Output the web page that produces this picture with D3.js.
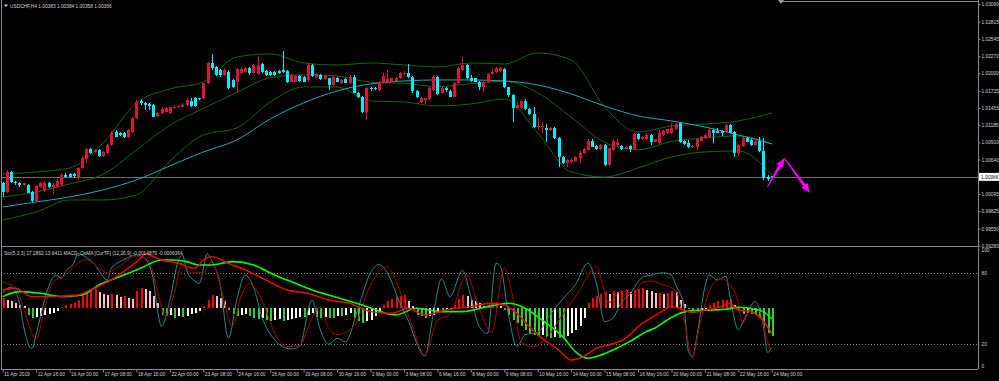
<!DOCTYPE html>
<html>
<head>
<meta charset="utf-8">
<script src="https://cdn.jsdelivr.net/npm/d3@7"></script>
<style>
html, body { margin: 0; padding: 0; background: #000; }
svg { display: block; font-family: "Liberation Sans", Arial, sans-serif; }
</style>
</head>
<body>
<svg id="chart" width="999" height="381"></svg>
<script>
// USDCHF H4 candles, [open, high, low, close], one per bar from 11 Apr 2019 08:00
var ohlc = [
[1.00265,1.00292,1.00055,1.00134],[1.00134,1.00475,1.00118,1.00449],[1.00449,1.00465,1.00276,1.00291],[1.00291,1.00307,1.00239,1.00265],
[1.00276,1.00291,1.00212,1.00239],[1.00239,1.00276,1.00223,1.00265],[1.00239,1.00254,1.00107,1.00118],[1.00134,1.00149,0.99976,0.99991],
[0.99991,1.00239,0.99976,1.00223],[1.00202,1.00291,1.00186,1.00265],[1.00160,1.00307,1.00134,1.00276],[1.00265,1.00281,1.00186,1.00202],
[1.00202,1.00265,1.00097,1.00239],[1.00212,1.00328,1.00202,1.00307],[1.00239,1.00423,1.00223,1.00397],[1.00397,1.00423,1.00344,1.00360],
[1.00412,1.00433,1.00360,1.00370],[1.00407,1.00428,1.00355,1.00375],[1.00344,1.00517,1.00318,1.00502],[1.00502,1.00686,1.00486,1.00659],
[1.00644,1.00817,1.00581,1.00802],[1.00802,1.00817,1.00723,1.00738],[1.00765,1.00812,1.00749,1.00791],[1.00791,1.00807,1.00686,1.00696],
[1.00696,1.00780,1.00675,1.00765],[1.00738,1.00886,1.00723,1.00870],[1.00870,1.01086,1.00854,1.01065],[1.01080,1.01107,1.00991,1.01001],
[1.01065,1.01080,1.01012,1.01028],[1.01065,1.01075,1.00975,1.01001],[1.00991,1.01117,1.00975,1.01107],[1.01080,1.01317,1.01065,1.01291],
[1.01291,1.01580,1.01275,1.01554],[1.01569,1.01591,1.01501,1.01527],[1.01527,1.01554,1.01422,1.01501],[1.01517,1.01527,1.01422,1.01485],
[1.01501,1.01517,1.01306,1.01317],[1.01327,1.01385,1.01317,1.01370],[1.01370,1.01464,1.01359,1.01433],[1.01396,1.01475,1.01385,1.01448],
[1.01370,1.01475,1.01359,1.01464],[1.01448,1.01501,1.01433,1.01475],[1.01464,1.01496,1.01448,1.01485],[1.01475,1.01527,1.01464,1.01501],
[1.01501,1.01606,1.01485,1.01580],[1.01569,1.01606,1.01475,1.01485],[1.01617,1.01633,1.01475,1.01485],[1.01606,1.01617,1.01580,1.01591],
[1.01606,1.01854,1.01591,1.01843],[1.01843,1.02185,1.01832,1.02159],[1.02159,1.02306,1.02053,1.02080],[1.02095,1.02117,1.01959,1.01975],
[1.02053,1.02064,1.01948,1.01975],[1.01975,1.02080,1.01959,1.02053],[1.02027,1.02053,1.01748,1.01764],[1.01896,1.01906,1.01764,1.01780],
[1.01869,1.02080,1.01696,1.02064],[1.02001,1.02095,1.01990,1.02064],[1.02027,1.02106,1.02011,1.02080],[1.02080,1.02106,1.01975,1.02001],
[1.02001,1.02148,1.01990,1.02132],[1.01990,1.02274,1.01975,1.02132],[1.02143,1.02159,1.02011,1.02027],[1.02043,1.02053,1.01959,1.01975],
[1.02027,1.02043,1.01964,1.01975],[1.02027,1.02038,1.01959,1.01975],[1.02043,1.02053,1.01990,1.02001],[1.02053,1.02358,1.02011,1.02027],
[1.02043,1.02053,1.01843,1.01859],[1.01869,1.01990,1.01859,1.01975],[1.01869,1.01975,1.01859,1.01959],[1.01959,1.01969,1.01869,1.01885],
[1.01948,1.01959,1.01859,1.01869],[1.01896,1.02159,1.01869,1.02132],[1.02132,1.02148,1.01948,1.01959],[1.01948,1.02001,1.01932,1.01990],
[1.01975,1.01990,1.01896,1.01906],[1.01906,1.01969,1.01896,1.01959],[1.01922,1.01932,1.01738,1.01817],[1.01817,1.01975,1.01801,1.01948],
[1.01922,1.01948,1.01859,1.01869],[1.01843,1.01906,1.01832,1.01896],[1.01906,1.01922,1.01843,1.01854],[1.01843,1.01975,1.01832,1.01948],
[1.01948,1.01975,1.01685,1.01696],[1.01696,1.01711,1.01606,1.01622],[1.01633,1.01643,1.01370,1.01396],[1.01396,1.01780,1.01264,1.01764],
[1.01764,1.01790,1.01727,1.01748],[1.01764,1.01780,1.01738,1.01748],[1.01738,1.01885,1.01727,1.01869],[1.01843,1.02011,1.01832,1.01959],
[1.01869,1.02053,1.01859,1.01906],[1.01869,1.01932,1.01854,1.01922],[1.01885,1.01948,1.01875,1.01932],[1.01922,1.02027,1.01906,1.02001],
[1.01985,1.02043,1.01975,1.02011],[1.02001,1.02148,1.01932,1.01948],[1.01948,1.01959,1.01696,1.01722],[1.01722,1.01733,1.01606,1.01633],
[1.01554,1.01633,1.01538,1.01606],[1.01580,1.01617,1.01517,1.01606],[1.01591,1.01780,1.01580,1.01764],[1.01738,1.01975,1.01727,1.01948],
[1.01948,1.01959,1.01659,1.01675],[1.01685,1.01780,1.01675,1.01764],[1.01764,1.01790,1.01711,1.01738],[1.01727,1.01738,1.01622,1.01633],
[1.01633,1.01869,1.01622,1.01854],[1.01843,1.02095,1.01832,1.02080],[1.02053,1.02253,1.02043,1.02132],[1.02132,1.02148,1.01906,1.01922],
[1.01922,1.01975,1.01869,1.01880],[1.01922,1.01932,1.01859,1.01869],[1.01869,1.01885,1.01738,1.01780],[1.01780,1.01880,1.01711,1.01869],
[1.01859,1.02011,1.01848,1.01990],[1.01990,1.02064,1.01975,1.02027],[1.02027,1.02106,1.02011,1.02080],[1.02043,1.02106,1.02027,1.02080],
[1.02069,1.02080,1.01764,1.01780],[1.01780,1.01790,1.01633,1.01659],[1.01659,1.01670,1.01238,1.01448],[1.01448,1.01554,1.01433,1.01501],
[1.01448,1.01580,1.01433,1.01569],[1.01569,1.01591,1.01422,1.01433],[1.01433,1.01448,1.01343,1.01359],[1.01359,1.01475,1.01133,1.01149],
[1.01149,1.01291,1.01107,1.01170],[1.01149,1.01238,1.01065,1.01170],[1.01133,1.01202,1.00923,1.01107],[1.01107,1.01159,1.01091,1.01133],
[1.01133,1.01149,1.00959,1.00975],[1.00975,1.00991,1.00528,1.00675],[1.00686,1.00696,1.00570,1.00581],[1.00581,1.00644,1.00517,1.00633],
[1.00607,1.00659,1.00591,1.00633],[1.00623,1.00696,1.00607,1.00675],[1.00659,1.00780,1.00591,1.00749],[1.00738,1.00817,1.00723,1.00802],
[1.00791,1.00959,1.00780,1.00938],[1.00928,1.00959,1.00833,1.00844],[1.00854,1.00870,1.00791,1.00802],[1.00802,1.00886,1.00791,1.00870],
[1.00870,1.00886,1.00544,1.00554],[1.00554,1.00828,1.00544,1.00817],[1.00791,1.00959,1.00780,1.00938],[1.00870,1.00959,1.00854,1.00923],
[1.00854,1.00870,1.00791,1.00802],[1.00812,1.00854,1.00802,1.00844],[1.00854,1.00865,1.00765,1.00812],[1.00802,1.01054,1.00791,1.01044],
[1.01044,1.01065,1.00949,1.00959],[1.00959,1.01007,1.00949,1.00991],[1.00959,1.01054,1.00949,1.01028],[1.01028,1.01038,1.00870,1.00923],
[1.00923,1.00970,1.00912,1.00959],[1.00896,1.01107,1.00886,1.01054],[1.01028,1.01107,1.01012,1.01096],[1.01054,1.01128,1.01038,1.01117],
[1.01054,1.01212,1.01044,1.01133],[1.01117,1.01212,1.01107,1.01201],[1.01212,1.01223,1.00896,1.00923],[1.00938,1.00949,1.00870,1.00886],
[1.00907,1.00949,1.00817,1.00833],[1.00833,1.00865,1.00823,1.00854],[1.00833,1.00970,1.00791,1.00960],[1.00938,1.01012,1.00928,1.01002],
[1.00975,1.01038,1.00965,1.01028],[1.01002,1.01133,1.00991,1.01107],[1.01107,1.01117,1.00896,1.01065],[1.01096,1.01133,1.01054,1.01065],
[1.01096,1.01107,1.01012,1.01065],[1.01080,1.01201,1.01070,1.01186],[1.01186,1.01196,1.01054,1.01065],[1.01080,1.01091,1.00675,1.00739],
[1.00739,1.00880,1.00697,1.00870],[1.00854,1.01002,1.00844,1.00975],[1.00975,1.01002,1.00912,1.00923],[1.00949,1.00960,1.00860,1.00870],
[1.00870,1.00975,1.00860,1.00938],[1.00938,1.01002,1.00765,1.00775],[1.00775,1.00975,1.00318,1.00344],[1.00370,1.00396,1.00300,1.00335],
[1.00383,1.00384,1.00358,1.00366]
];

var xLabels = ["11 Apr 2019","12 Apr 16:00","16 Apr 00:00","17 Apr 08:00","18 Apr 16:00","22 Apr 00:00",
  "23 Apr 08:00","24 Apr 16:00","26 Apr 00:00","29 Apr 08:00","30 Apr 16:00","2 May 00:00","3 May 08:00",
  "6 May 16:00","8 May 00:00","9 May 08:00","10 May 16:00","14 May 00:00","15 May 08:00","16 May 16:00",
  "20 May 00:00","21 May 08:00","22 May 16:00","24 May 00:00"];
var priceTicks = [1.03090,1.02815,1.02545,1.02270,1.02000,1.01725,1.01455,1.01185,1.00910,1.00640,1.00095,0.99825,0.99550,0.99280];
var lastPrice = 1.00366;
var stochTicks = [100, 80, 20, 0];
var stochLevels = [80, 20];

// indicator lines read every 8 bars
var lineBars = [0,8,16,24,32,40,48,56,64,72,80,88,96,104,112,120,128,136,144,152,160,168,176,184];
var bbUpper  = [1.00412,1.00444,1.00507,1.00901,1.01533,1.01754,1.01864,1.02259,1.02306,1.02164,1.02132,1.02164,
                1.02132,1.02101,1.02164,1.02148,1.02322,1.02211,1.01470,1.01075,1.01170,1.01201,1.01249,1.01375];
var bbMiddle = [1.00049,1.00128,1.00255,1.00407,1.00790,1.01180,1.01446,1.01699,1.01930,1.01977,1.01960,1.01860,
                1.01842,1.01790,1.01838,1.01874,1.01694,1.01309,1.00913,1.00794,1.00925,1.00982,1.01012,1.00889];
var bbLower  = [0.99686,0.99813,1.00002,1.00002,1.00081,1.00617,1.01028,1.01138,1.01548,1.01785,1.01785,1.01564,
                1.01548,1.01485,1.01517,1.01596,1.01059,1.00444,1.00365,1.00507,1.00681,1.00760,1.00775,1.00397];
var maLine   = [0.99891,0.99970,1.00049,1.00160,1.00318,1.00539,1.00759,1.00949,1.01280,1.01533,1.01722,1.01833,
                1.01880,1.01896,1.01896,1.01880,1.01817,1.01675,1.01485,1.01328,1.01249,1.01154,1.01028,1.00886];

// Stochastic (5,3,3): [bar, value]
var stochMain = [[0,63],[2,68],[4,55],[5,35],[7,16],[8,28],[10,57],[12,76],[13,78],[14,75],[15,81],[17,88],[18,96],[20,93],
  [22,87],[23,82],[25,74],[26,84],[29,91],[32,95],[34,92],[36,75],[37,49],[38,35],[40,57],[42,90],[43,95],[44,82],[46,73],
  [47,71],[49,96],[50,90],[52,71],[54,25],[56,57],[58,78],[60,68],[62,43],[65,24],[67,18],[69,16],[71,18],[74,57],[76,32],
  [78,20],[80,25],[82,22],[85,50],[88,80],[90,87],[92,80],[95,55],[97,40],[101,10],[103,45],[105,75],[107,60],[110,82],
  [112,60],[114,35],[116,29],[118,88],[119,86],[121,45],[123,18],[125,28],[128,30],[131,45],[134,58],[137,70],[140,88],
  [142,72],[144,39],[146,42],[148,55],[150,62],[153,76],[155,78],[158,80],[160,78],[161,70],[163,52],[164,15],[165,9],
  [166,25],[168,68],[169,78],[171,74],[173,77],[174,60],[176,32],[177,38],[178,45],[180,56],[181,50],[182,35],[183,13],[184,17.29]];
var stochSignal = [[0,72],[3,68],[5,50],[8,24],[10,50],[12,72],[15,78],[17,85],[20,91],[23,84],[25,80],[28,86],[32,94],
  [35,90],[37,65],[39,43],[41,62],[43,88],[45,80],[48,80],[50,90],[52,70],[55,35],[57,60],[59,71],[62,57],[65,30],[68,18],
  [71,19],[74,42],[76,52],[78,33],[80,28],[84,35],[88,70],[92,85],[95,65],[98,35],[101,11],[104,40],[107,45],[111,78],
  [114,50],[117,30],[120,84],[122,60],[124,22],[127,18],[130,25],[134,45],[138,65],[142,85],[145,55],[148,65],[151,62],
  [153,72],[155,73],[158,70],[161,65],[163,40],[165,10],[167,40],[170,71],[172,75],[174,70],[176,55],[177,37],[179,50],
  [181,48],[183,22],[184,13.64]];

// MACD_OsMA (12,26,9): lines as [bar, value], histogram one value per bar
var macdMain = [[0,0.0011],[3,0.0012],[7,0.0007],[11,0.0007],[18,0.0008],[21,0.0011],[26,0.0017],[30,0.0024],[33,0.0030],
  [34,0.00326],[38,0.0029],[42,0.0027],[46,0.0024],[48,0.0029],[50,0.0031],[54,0.0027],[58,0.0023],[63,0.0017],[68,0.0011],
  [73,0.0009],[78,0.0005],[83,0.0003],[88,-0.0002],[93,-0.0003],[97,0.0],[101,-0.0004],[106,-0.0001],[112,0.0001],
  [117,0.0003],[120,0.0002],[123,-0.0003],[126,-0.0011],[129,-0.0018],[133,-0.0025],[136,-0.0031],[139,-0.0029],
  [142,-0.0024],[145,-0.0022],[149,-0.0018],[153,-0.0009],[155,-0.0006],[157,-0.0003],[160,0.0001],[163,-0.0001],
  [165,-0.00026],[168,-0.0001],[172,0.0001],[174,0.0003],[176,-0.0001],[179,-0.0002],[181,-0.0005],[184,-0.0014879]];
var macdSignal = [[0,0.0007],[4,0.0010],[9,0.0009],[14,0.0007],[19,0.0008],[23,0.0014],[28,0.0019],[33,0.0024],[38,0.0029],
  [41,0.0029],[44,0.0028],[47,0.0026],[50,0.0026],[55,0.0028],[60,0.0026],[65,0.0020],[70,0.0015],[74,0.0011],[78,0.0008],
  [86,0.0002],[94,-0.0004],[99,0.0],[105,-0.0002],[110,-0.0002],[116,0.0001],[121,0.0003],[125,0.0],[129,-0.0007],
  [134,-0.0017],[137,-0.0026],[140,-0.0030],[142,-0.0029],[146,-0.0025],[150,-0.0020],[154,-0.0014],[156,-0.0012],
  [159,-0.0007],[162,-0.0003],[165,-0.00014],[170,-0.0001],[173,-0.00006],[176,0.00006],[180,-0.00006],[182,-0.0002],[184,-0.0006364]];
var osma = [
 .0003,.00024,.00021,.00015,.00009,.00006,-.00021,-.0003,-.00027,-.00024,-.00021,-.00018,-.00015,-.00009,.00003,.00009,
 .00012,.00015,.00024,.00036,.00048,.00054,.00057,.00048,.00042,.00039,.00042,.00039,.00033,.00036,.0003,.00027,
 .00051,.0006,.00057,.00051,.00036,.00015,-.00021,-.00024,-.00021,-.0003,-.00024,-.00027,-.00024,-.00018,-.00015,-.00009,
 .00006,.00024,.00039,.00036,.0003,.00021,-.00006,-.00018,-.00024,-.00021,-.00018,-.00024,-.0003,-.00033,-.0003,-.00036,
 -.00039,-.00036,-.00033,-.00039,-.00036,-.00033,-.0003,-.00027,-.00027,-.00021,-.00015,-.00027,-.0003,-.00027,-.0003,-.0003,
 -.00024,-.00024,-.00021,-.00015,-.0003,-.00039,-.00045,-.00039,-.00036,-.00024,-.00015,.00009,.00021,.00027,.00033,.00036,
 .00039,.00021,.00006,-.00021,-.00024,-.0003,-.00024,-.00021,-.00009,-.00012,-.00006,-.00003,.00009,.00027,.00039,.00036,
 .00024,.00021,.00015,.00006,.00009,.00015,.00018,.00006,-.00006,-.00021,-.00036,-.00045,-.00054,-.00066,-.00075,-.00081,
 -.00084,-.00081,-.00087,-.0009,-.00087,-.0009,-.00093,-.00084,-.00075,-.00066,-.00054,-.0003,.00015,.0003,.00036,.00042,
 .00048,.00042,.00051,.00048,.00051,.00054,.00048,.00054,.00057,.0006,.00054,.00051,.00045,.00045,.00042,.00045,
 .00051,.00048,.00024,.00012,-.00003,-.00006,-.00009,-.00006,-.00003,.00009,.00015,.00021,.00024,.00024,.00027,.00009,
 -.00009,-.00018,-.00015,-.00018,-.00021,-.0003,-.0006,-.00075,-.00084
];

// hand drawn magenta zigzag arrow: [bar, price]
var arrowPts = [[183, 1.00212], [187, 1.00660], [193.1, 1.00117]];

var svg = d3.select("#chart");
var txtColor = "#d4d4d4";
var frameColor = "#8c8c8c";

var x = d3.scaleLinear().domain([0, 184]).range([2.7, 771.8]);
var y = d3.scaleLinear().domain([0.99280, 1.03090]).range([245.7, 4.3]);
var ySto = d3.scaleLinear().domain([0, 100]).range([368, 249]);
var yMacd = d3.scaleLinear().domain([-0.003, 0.003]).range([358.3, 258.3]);
var yOsma = d3.scaleLinear().domain([-0.001, 0.001]).range([341.6, 275]);

svg.append("rect").attr("width", 999).attr("height", 381).attr("fill", "#000");

var defs = svg.append("defs");
defs.append("clipPath").attr("id", "clipMain").append("rect").attr("x", 1).attr("y", 1).attr("width", 977).attr("height", 245);
defs.append("clipPath").attr("id", "clipSub").append("rect").attr("x", 1).attr("y", 248).attr("width", 977).attr("height", 121);

var main = svg.append("g").attr("clip-path", "url(#clipMain)");
var sub = svg.append("g").attr("clip-path", "url(#clipSub)");

// current price line
main.append("line").attr("x1", 0).attr("x2", 978).attr("y1", Math.round(y(lastPrice)) + 0.5).attr("y2", Math.round(y(lastPrice)) + 0.5)
  .attr("stroke", "#6e6e6e").attr("stroke-width", 1);

// bands and moving average
function sampled(vals) { return vals.map(function(v, i) { return [lineBars[i], v]; }); }
var pLine = d3.line().x(function(d) { return x(d[0]); }).y(function(d) { return y(d[1]); }).curve(d3.curveMonotoneX);
[bbUpper, bbMiddle, bbLower].forEach(function(s) {
  main.append("path").attr("d", pLine(sampled(s))).attr("fill", "none").attr("stroke", "#136613").attr("stroke-width", 1);
});
main.append("path").attr("d", pLine(sampled(maLine))).attr("fill", "none").attr("stroke", "#1fa9b9").attr("stroke-width", 1);

// candles
var cg = main.append("g").attr("shape-rendering", "crispEdges");
var bull = "#dc143c", bear = "#00f0ff";
cg.selectAll("line.wick").data(ohlc).enter().append("line")
  .attr("x1", function(d, i) { return Math.round(x(i)) + 0.5; })
  .attr("x2", function(d, i) { return Math.round(x(i)) + 0.5; })
  .attr("y1", function(d) { return y(d[1]); })
  .attr("y2", function(d) { return y(d[2]); })
  .attr("stroke", function(d) { return d[3] >= d[0] ? bull : bear; });
cg.selectAll("rect.body").data(ohlc).enter().append("rect")
  .attr("x", function(d, i) { return Math.round(x(i)) - 1; })
  .attr("width", 3)
  .attr("y", function(d) { return y(Math.max(d[0], d[3])); })
  .attr("height", function(d) { return Math.max(1, Math.abs(y(d[0]) - y(d[3]))); })
  .attr("fill", function(d) { return d[3] >= d[0] ? bull : bear; });

// magenta arrow
var ax = arrowPts.map(function(p) { return [x(p[0]), y(p[1])]; });
function arrowSeg(a, b) {
  var dx = b[0] - a[0], dy = b[1] - a[1], len = Math.sqrt(dx * dx + dy * dy);
  var ux = dx / len, uy = dy / len, nx = -uy, ny = ux;
  var headL = 9, headW = 4;
  var bx = b[0] - ux * headL, by = b[1] - uy * headL;
  main.append("path")
    .attr("d", "M" + a[0] + "," + a[1] + "L" + (bx + nx * 1.2) + "," + (by + ny * 1.2) + "L" + (bx - nx * 1.2) + "," + (by - ny * 1.2) + "Z")
    .attr("fill", "#ff00ff").attr("stroke", "#ff00ff").attr("stroke-width", 0.8);
  main.append("path")
    .attr("d", "M" + b[0] + "," + b[1] + "L" + (bx + nx * headW) + "," + (by + ny * headW) + "L" + (bx - nx * headW) + "," + (by - ny * headW) + "Z")
    .attr("fill", "#ff00ff");
}
arrowSeg(ax[0], ax[1]);
arrowSeg(ax[1], ax[2]);

// ---- lower pane ----
stochLevels.forEach(function(l) {
  sub.append("line").attr("x1", 1).attr("x2", 978).attr("y1", Math.round(ySto(l)) + 0.5).attr("y2", Math.round(ySto(l)) + 0.5)
    .attr("stroke", "#8a8a8a").attr("stroke-dasharray", "1,2");
});

var hg = sub.append("g").attr("shape-rendering", "crispEdges");
hg.selectAll("rect").data(osma).enter().append("rect")
  .attr("x", function(d, i) { return Math.round(x(i)) - 0.5; })
  .attr("width", 2)
  .attr("y", function(d) { return Math.min(yOsma(d), yOsma(0)); })
  .attr("height", function(d) { return Math.max(1, Math.abs(yOsma(d) - yOsma(0))); })
  .attr("fill", function(d, i) {
    var prev = i > 0 ? osma[i - 1] : d;
    if (d >= 0) return d >= prev ? "#ff0000" : "#ffc0cb";
    return d <= prev ? "#32cd32" : "#ffffff";
  });

var stoLine = d3.line().x(function(d) { return x(d[0]); }).y(function(d) { return ySto(d[1]); }).curve(d3.curveMonotoneX);
sub.append("path").attr("d", stoLine(stochMain)).attr("fill", "none").attr("stroke", "#258c8c").attr("stroke-width", 1);
sub.append("path").attr("d", stoLine(stochSignal)).attr("fill", "none").attr("stroke", "#a80000").attr("stroke-width", 1);

var macdLine = d3.line().x(function(d) { return x(d[0]); }).y(function(d) { return yMacd(d[1]); }).curve(d3.curveMonotoneX);
sub.append("path").attr("d", macdLine(macdSignal)).attr("fill", "none").attr("stroke", "#00ff00").attr("stroke-width", 1.6);
sub.append("path").attr("d", macdLine(macdMain)).attr("fill", "none").attr("stroke", "#ff0000").attr("stroke-width", 1.4);

// ---- frame ----
var frame = svg.append("g").attr("stroke", frameColor).attr("shape-rendering", "crispEdges");
frame.append("line").attr("x1", 1.5).attr("x2", 1.5).attr("y1", 0).attr("y2", 369);
frame.append("line").attr("x1", 781).attr("x2", 978).attr("y1", 1.5).attr("y2", 1.5);
frame.append("line").attr("x1", 1).attr("x2", 978).attr("y1", 246.5).attr("y2", 246.5);
frame.append("line").attr("x1", 1).attr("x2", 978).attr("y1", 369.5).attr("y2", 369.5);
svg.append("path").attr("d", "M778,0L784,0L781,4Z").attr("fill", "#9a9a9a");

// price axis
var yAxis = svg.append("g").attr("transform", "translate(978.5,0)")
  .call(d3.axisRight(y).tickValues(priceTicks).tickSize(2).tickPadding(1).tickFormat(d3.format(".5f")));
yAxis.select(".domain").attr("stroke", frameColor).attr("d", "M0,0V369");
yAxis.selectAll(".tick line").attr("stroke", frameColor);
yAxis.selectAll("text").attr("fill", txtColor).attr("font-size", "4.8px").attr("font-family", "Liberation Sans, Arial");

// current price tag
svg.append("rect").attr("x", 979).attr("y", y(lastPrice) - 4).attr("width", 20).attr("height", 8).attr("fill", "#ffffff");
svg.append("text").attr("x", 981).attr("y", y(lastPrice) + 1.7).attr("font-size", "4.8px").attr("fill", "#000")
  .text(d3.format(".5f")(lastPrice));

// stochastic axis
var sAxis = svg.append("g").attr("transform", "translate(978.5,0)")
  .call(d3.axisRight(ySto).tickValues(stochTicks).tickSize(0).tickPadding(3));
sAxis.select(".domain").remove();
sAxis.selectAll("text").attr("fill", txtColor).attr("font-size", "4.8px").attr("font-family", "Liberation Sans, Arial");
sAxis.selectAll(".tick").filter(function(d) { return d === 0; }).select("text").attr("dy", "-0.15em");
sAxis.selectAll(".tick").filter(function(d) { return d === 100; }).select("text").attr("dy", "0.6em");

// time axis
var xAxis = svg.append("g").attr("transform", "translate(0,369.5)")
  .call(d3.axisBottom(x).tickValues(xLabels.map(function(d, i) { return i * 8; })).tickSize(3)
    .tickFormat(function(d, i) { return xLabels[i]; }));
xAxis.select(".domain").remove();
xAxis.selectAll(".tick line").attr("stroke", frameColor);
xAxis.selectAll("text").attr("fill", txtColor).attr("font-size", "4.8px").attr("font-family", "Liberation Sans, Arial")
  .attr("text-anchor", "start").attr("x", 1).attr("y", 3).attr("dy", "0.71em");

// titles
svg.append("path").attr("d", "M4,4.5L8,4.5L6,7Z").attr("fill", txtColor);
svg.append("text").attr("x", 10).attr("y", 7.5).attr("font-size", "4.8px").attr("fill", txtColor)
  .text("USDCHF,H4  1.00383 1.00384 1.00358 1.00366");
svg.append("text").attr("x", 4).attr("y", 255).attr("font-size", "4.8px").attr("fill", txtColor)
  .text("Sto(5,3,3) 17.2862 13.6411  MACD_OsMA [CurTF] (12,26,9) -0.0014879 -0.0006364");
</script>
</body>
</html>
